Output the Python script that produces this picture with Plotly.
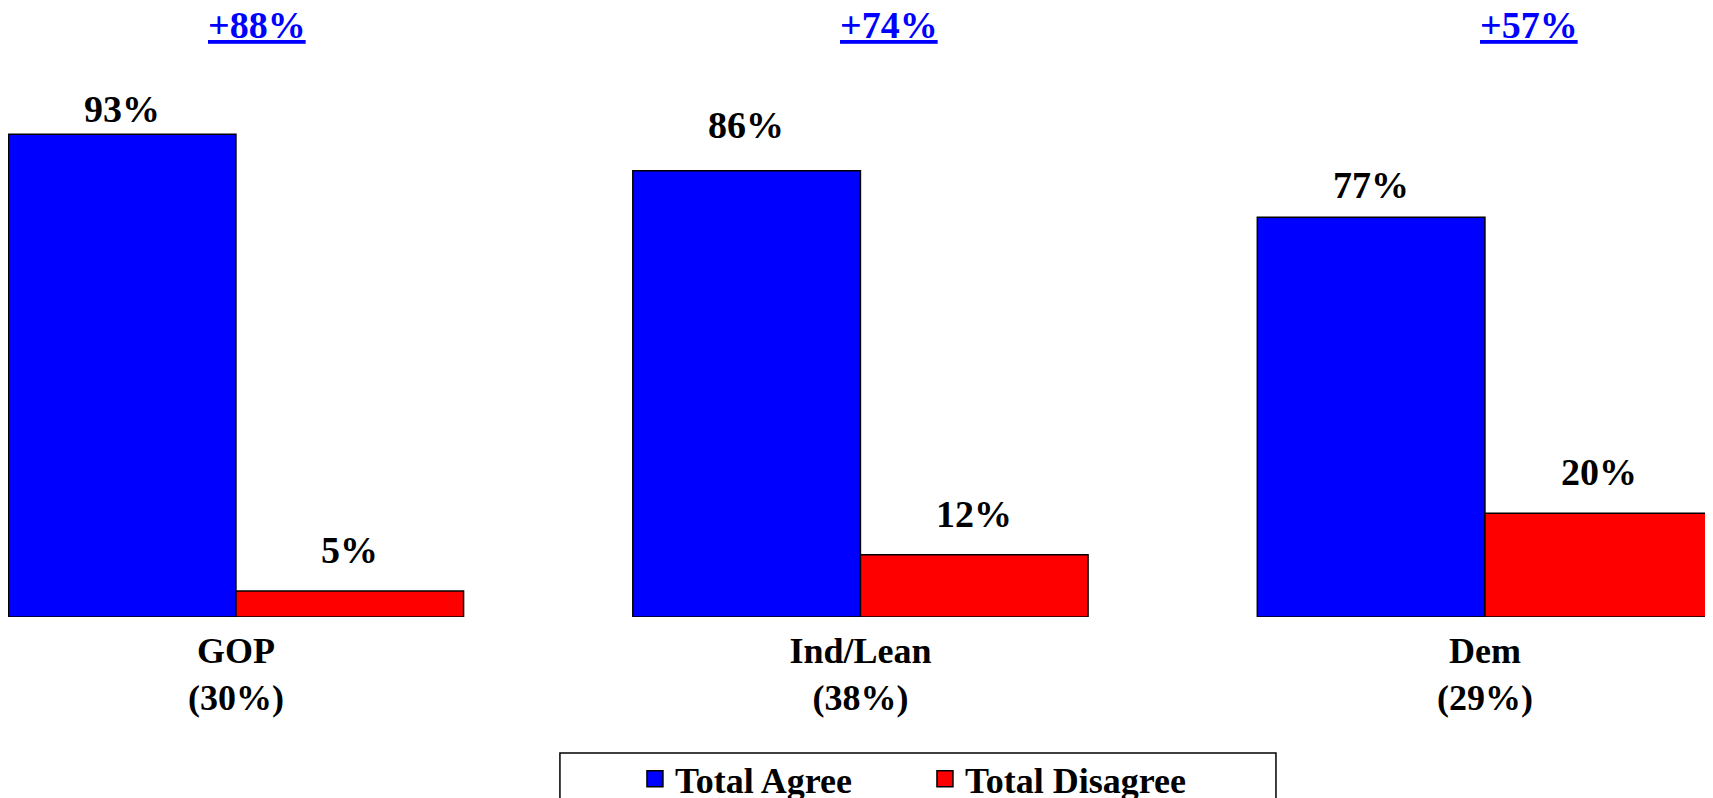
import plotly.graph_objects as go

categories = ["GOP<br>(30%)", "Ind/Lean<br>(38%)", "Dem<br>(29%)"]
agree = [93, 86, 77]
disagree = [5, 12, 20]
net_labels = ["+88%", "+74%", "+57%"]

# layout offsets (pixels) for labels
net_xshift = [21, 29, 44]
agree_label_shift = [2, 23, 9]
disagree_label_shift = [18, 18, 18]

FONT = "Liberation Serif, Times New Roman, serif"
BLUE = "#0000FF"
RED = "#FF0000"
xpos = list(range(len(categories)))
BAR_HALF_PX = 114  # half a bar width, to centre labels on grouped bars

fig = go.Figure()
fig.add_trace(go.Bar(
    x=xpos, y=agree, name="Total Agree", showlegend=False,
    marker=dict(color=BLUE, line=dict(color="black", width=1.5)),
))
fig.add_trace(go.Bar(
    x=xpos, y=disagree, name="Total Disagree", showlegend=False,
    marker=dict(color=RED, line=dict(color="black", width=1.5)),
))
# legend entries with larger square symbols
for name, col in [("Total Agree", BLUE), ("Total Disagree", RED)]:
    fig.add_trace(go.Scatter(
        x=[None], y=[None], mode="markers", name=name,
        marker=dict(symbol="square", size=17, color=col, line=dict(color="black", width=1.5)),
    ))

label_font = dict(family=FONT, size=38, color="black", weight="bold")
for i in xpos:
    fig.add_annotation(x=xpos[i], y=agree[i], xref="x", yref="y", text=f"{agree[i]}%",
                       showarrow=False, yanchor="bottom", xshift=-BAR_HALF_PX,
                       yshift=agree_label_shift[i], font=label_font)
    fig.add_annotation(x=xpos[i], y=disagree[i], xref="x", yref="y", text=f"{disagree[i]}%",
                       showarrow=False, yanchor="bottom", xshift=BAR_HALF_PX,
                       yshift=disagree_label_shift[i], font=label_font)

for i, (lab, xs) in enumerate(zip(net_labels, net_xshift)):
    fig.add_annotation(
        x=xpos[i], xref="x", y=1.140, yref="paper", yanchor="middle",
        text=lab, showarrow=False, xshift=xs,
        font=dict(family=FONT, size=38, color=BLUE, weight="bold", lineposition="under"),
    )

# legend frame
fig.add_shape(type="rect", xref="paper", yref="paper",
              x0=0.3222, x1=0.7402, y0=-0.262, y1=-0.6,
              line=dict(color="black", width=1.5), fillcolor="white", layer="below")

fig.update_layout(
    width=1713, height=798,
    margin=dict(l=0, r=0, t=90, b=189, autoexpand=False),
    plot_bgcolor="rgba(0,0,0,0)", paper_bgcolor="white",
    barmode="group", bargap=0.271, bargroupgap=0,
    font=dict(family=FONT, size=36, color="black"),
    xaxis=dict(
        tickmode="array", tickvals=xpos, ticktext=[f"<b>{c}</b>" for c in categories],
        range=[-0.365, 2.378], showgrid=False, zeroline=False, showline=False,
        ticks="", tickfont=dict(family=FONT, size=36, color="black"),
        ticklabelstandoff=9,
    ),
    yaxis=dict(range=[0, 100], visible=False, showgrid=False, zeroline=False),
    showlegend=True,
    legend=dict(
        orientation="h", x=0.366, xanchor="left", y=-0.254, yanchor="top",
        borderwidth=0, bgcolor="rgba(0,0,0,0)", itemsizing="trace",
        font=dict(family=FONT, size=36, color="black", weight="bold"),
        entrywidth=245, entrywidthmode="pixels",
    ),
)

fig.write_html("out.html")
